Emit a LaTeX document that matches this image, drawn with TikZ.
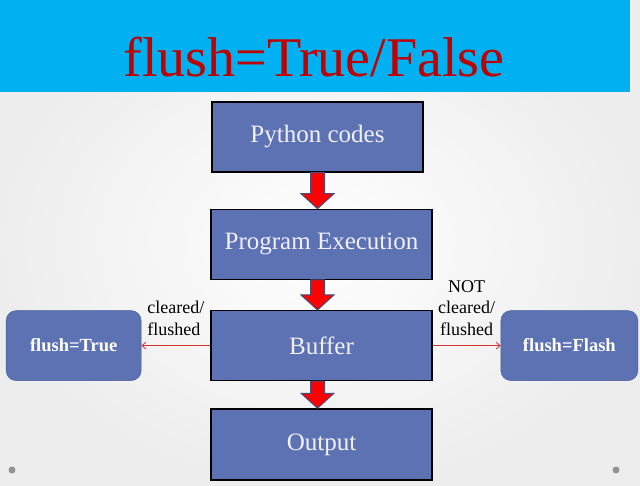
\documentclass[tikz,border=0pt]{standalone}
\usepackage{fontspec}
\setmainfont{Liberation Serif}
\usetikzlibrary{arrows.meta, calc, positioning}

\definecolor{banner}{RGB}{0,176,240}
\definecolor{titlered}{RGB}{192,0,0}
\definecolor{boxblue}{RGB}{93,114,178}
\definecolor{boxedge}{RGB}{70,90,150}
\definecolor{arrowedge}{RGB}{65,80,125}
\definecolor{linkred}{RGB}{210,50,50}

\tikzset{
	stage/.style={draw=black, line width=1.3pt, fill=boxblue, text=white!94!blue,
		minimum width=221pt, minimum height=70pt, font=\fontsize{25}{30}\selectfont},
	flag/.style={draw=boxedge, fill=boxblue, rounded corners=10pt, text=white,
		minimum width=136pt, minimum height=70pt, font=\fontsize{18.5}{22}\selectfont\bfseries},
	blockarrow/.style={fill=red, draw=arrowedge, line width=1pt, line join=miter},
	link/.style={draw=linkred, line width=0.8pt, ->},
	note/.style={font=\fontsize{18}{21.5}\selectfont, inner sep=2pt}
}

\begin{document}
\begin{tikzpicture}[x=1pt, y=1pt, >={Straight Barb[length=4pt,width=7pt]}]
		\useasboundingbox (0,0) rectangle (640,485);
		\shade[inner color=white, outer color=gray!14] (0,0) rectangle (640,485);
		\fill[banner] (0,393) rectangle (630,485);
		\node[anchor=base, text=titlered, font=\fontsize{56}{60}\selectfont] (title) at (314,408) {flush=True/False};

		\node[stage, minimum width=211pt] (py) at (317.5,348) {Python codes};
		\node[stage] [below=36pt of py, xshift=4pt] (pe) {Program Execution};
		\node[stage] [below=30pt of pe] (buf) {Buffer};
		\node[stage, minimum height=71pt] [below=27pt of buf] (out) {Output};

		\node[flag, minimum width=135pt] [left=69pt of buf] (ft) {flush=True};
		\node[flag, minimum width=137pt] [right=68pt of buf] (ff) {flush=Flash};

		% red block arrows between the stages
		\foreach \a/\b in {py/pe, pe/buf, buf/out} {
			\coordinate (top) at (\a.south -| py);
			\coordinate (tip) at (\b.north -| py);
			\draw[blockarrow] ($(top)+(-7,0)$) -- ($(tip)+(-7,15)$) -- ($(tip)+(-16.5,15)$) -- (tip)
				-- ($(tip)+(16.5,15)$) -- ($(tip)+(7,15)$) -- ($(top)+(7,0)$) -- cycle;
		}

		\draw[link] (buf.west) -- node[note, above=8pt, align=left] {cleared/\\flushed} (ft.east);
		\draw[link] (buf.east) -- node[note, above=8pt, align=center] {NOT\\cleared/\\flushed} (ff.west);

		\fill[gray!85] (12,15) circle (3.5) (616,15) circle (3.5);
	\end{tikzpicture}
\end{document}
